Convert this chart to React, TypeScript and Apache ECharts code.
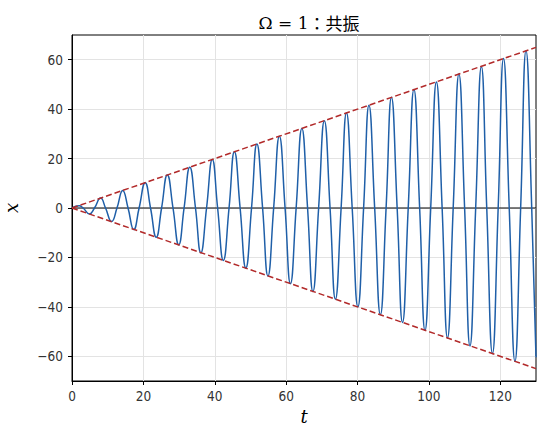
import React, { useEffect, useRef } from "react";
import * as echarts from "echarts";

// points: zero crossings and extrema
const tValues = [
  0, 2.0, 3.1, 4.9, 6.3, 8.0, 9.4, 11.1, 12.6, 14.2, 15.7, 17.3, 18.8, 20.5, 22.0, 23.6,
  25.1, 26.7, 28.3, 29.9, 31.4, 33.0, 34.6, 36.1, 37.7, 39.3, 40.8, 42.4, 44.0, 45.5, 47.1,
  48.7, 50.3, 51.8, 53.4, 54.9, 56.5, 58.1, 59.7, 61.2, 62.8, 64.4, 66.0, 67.5, 69.1, 70.7,
  72.3, 73.8, 75.4, 76.9, 78.5, 80.1, 81.7, 83.2, 84.8, 86.4, 88.0, 89.5, 91.1, 92.6, 94.2,
  95.8, 97.4, 98.9, 100.5, 102.1, 103.7, 105.2, 106.8, 108.4, 110.0, 111.5, 113.1, 114.7,
  116.2, 117.8, 119.4, 120.9, 122.5, 124.1, 125.7, 127.2, 128.8, 130,
];
const xValues = [
  0, 0.9, 0, -2.4, 0, 4.0, 0, -5.5, 0, 7.1, 0, -8.7, 0, 10.2, 0, -11.8,
  0, 13.4, 0, -14.9, 0, 16.5, 0, -18.1, 0, 19.6, 0, -21.2, 0, 22.8, 0,
  -24.3, 0, 25.9, 0, -27.5, 0, 29.0, 0, -30.6, 0, 32.2, 0, -33.8, 0, 35.3,
  0, -36.9, 0, 38.5, 0, -40.0, 0, 41.6, 0, -43.2, 0, 44.8, 0, -46.3, 0,
  47.9, 0, -49.5, 0, 51.0, 0, -52.6, 0, 54.2, 0, -55.8, 0, 57.3,
  0, -58.9, 0, 60.5, 0, -62.0, 0, 63.6, 0, -60.4,
];
const upperEnvelope = [[0, 0], [130, 65]];
const lowerEnvelope = [[0, 0], [130, -65]];
const xTicks = [0, 20, 40, 60, 80, 100, 120];
const yTicks = [-60, -40, -20, 0, 20, 40, 60];

const tickFont = "'DejaVu Sans Condensed', 'Liberation Sans Narrow', sans-serif";
const mathFont = "'DejaVu Serif', 'Liberation Serif', serif";

const App = () => {
  const chartRef = useRef(null);

  useEffect(() => {
    if (!chartRef.current) return;
    const chart = echarts.init(chartRef.current, null, { renderer: "svg" });

    const curve = tValues.map((t, i) => [t, xValues[i]]);

    chart.setOption({
      animation: false,
      backgroundColor: "#fff",
      title: {
        text: "{m|Ω = 1}{j|：共振}",
        left: 304,
        top: 9,
        textAlign: "center",
        textStyle: {
          fontWeight: "normal",
          rich: {
            m: { fontFamily: mathFont, fontSize: 17, color: "#000", fontWeight: "normal" },
            j: {
              fontFamily: "'Noto Sans CJK JP', sans-serif",
              fontSize: 17,
              color: "#000",
              fontWeight: "normal",
            },
          },
        },
      },
      grid: {
        left: 72,
        right: 10,
        top: 35,
        bottom: 56,
        show: true,
        borderColor: "#000",
        borderWidth: 1,
        outerBoundsMode: "none",
        containLabel: false,
      },
      xAxis: {
        type: "value",
        min: 0,
        max: 130,
        name: "t",
        nameLocation: "middle",
        nameGap: 26,
        nameTextStyle: { fontFamily: mathFont, fontStyle: "italic", fontSize: 18, color: "#000" },
        axisLine: { onZero: false, lineStyle: { color: "#000", width: 1 } },
        axisTick: { show: true, length: 4, customValues: xTicks, lineStyle: { color: "#000" } },
        axisLabel: {
          customValues: xTicks,
          fontFamily: tickFont,
          fontSize: 13.5,
          color: "#333",
          margin: 8,
        },
        splitLine: { show: true, lineStyle: { color: "#e3e3e3", width: 1 } },
      },
      yAxis: {
        type: "value",
        min: -70,
        max: 70,
        name: "x",
        nameLocation: "middle",
        nameGap: 52,
        nameTextStyle: { fontFamily: mathFont, fontStyle: "italic", fontSize: 18, color: "#000" },
        axisLine: { show: true, onZero: false, lineStyle: { color: "#000", width: 1 } },
        axisTick: { show: true, length: 4, customValues: yTicks, lineStyle: { color: "#000" } },
        axisLabel: {
          customValues: yTicks,
          fontFamily: tickFont,
          fontSize: 13.5,
          color: "#333",
          margin: 9,
          formatter: (v) => String(v).replace("-", "\u2212"),
        },
        splitLine: { show: true, lineStyle: { color: "#e3e3e3", width: 1 } },
      },
      series: [
        {
          type: "line",
          data: [[0, 0], [130, 0]],
          symbol: "none",
          lineStyle: { color: "#000", width: 1 },
          z: 1,
        },
        {
          type: "line",
          data: curve,
          symbol: "none",
          smooth: 0.5,
          lineStyle: { color: "#1f5fa8", width: 1.5 },
          z: 2,
        },
        {
          type: "line",
          data: upperEnvelope,
          symbol: "none",
          lineStyle: { color: "#b22a2a", width: 1.5, type: [6, 3] },
          z: 3,
        },
        {
          type: "line",
          data: lowerEnvelope,
          symbol: "none",
          lineStyle: { color: "#b22a2a", width: 1.5, type: [6, 3] },
          z: 3,
        },
      ],
    });

    return () => chart.dispose();
  }, []);

  return (
    <div
      ref={chartRef}
      style={{ position: "absolute", left: 0, top: 0, width: "546px", height: "437px" }}
    />
  );
};

export default App;
